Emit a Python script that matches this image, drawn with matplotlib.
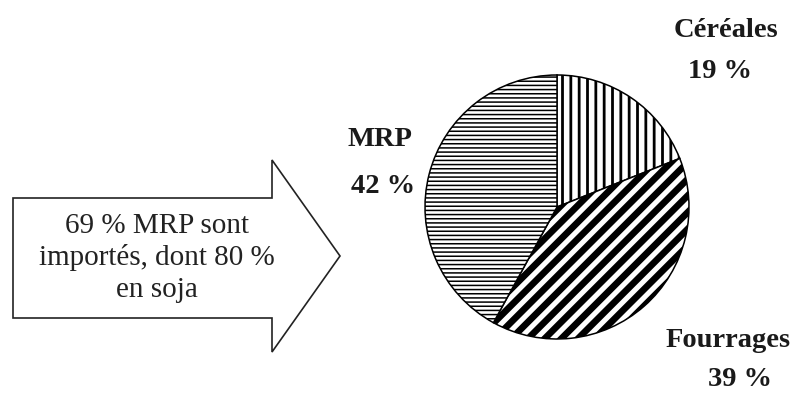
import matplotlib.pyplot as plt
from matplotlib.patches import Polygon

# ===== Data =====
categories = ["Céréales", "Fourrages", "MRP"]
shares = [19, 39, 42]
share_labels = ["19 %", "39 %", "42 %"]
hatches = ["||", "//", "----"]
hatch_widths = [2.0, 4.8, 1.1]
arrow_text = "69 % MRP sont\nimportés, dont 80 %\nen soja"

W, H = 796, 394
plt.rcParams["font.family"] = ["Liberation Serif", "DejaVu Serif"]

fig = plt.figure(figsize=(W / 100, H / 100), dpi=100)
ax = fig.add_axes([0, 0, 1, 1])

# ===== Pie =====
wedges, _ = ax.pie(shares, colors=["white"] * 3, startangle=90, counterclock=False,
                   center=(557, H - 207), radius=132, frame=True,
                   wedgeprops=dict(edgecolor="black", linewidth=1.1))
for w, h, lw in zip(wedges, hatches, hatch_widths):
    w.set_hatch(h)
    if hasattr(w, "set_hatch_linewidth"):
        w.set_hatch_linewidth(lw)

# ===== Arrow =====
arrow_pts = [(13, 198), (272, 198), (272, 160), (340, 256),
             (272, 352), (272, 318), (13, 318)]
ax.add_patch(Polygon([(x, H - y) for x, y in arrow_pts], closed=True,
                     facecolor="white", edgecolor="#222222", linewidth=1.2))
# baseline of the last line
ax.text(157, H - 297, arrow_text, ha="center", va="baseline", fontsize=21,
        linespacing=1.28, color="#222222", multialignment="center")

# ===== Labels =====
lab = dict(ha="center", va="baseline", fontsize=20.5, fontweight="bold", color="#1a1a1a")
ax.text(726, H - 37, categories[0], **lab)
ax.text(720, H - 78, share_labels[0], **lab)
ax.text(728, H - 347, categories[1], **lab)
ax.text(740, H - 386, share_labels[1], **lab)
ax.text(380, H - 146, categories[2], **lab)
ax.text(383, H - 193, share_labels[2], **lab)

ax.set_xlim(0, W)
ax.set_ylim(0, H)
ax.set_aspect("equal")
ax.axis("off")

fig.savefig("out.png", dpi=100)
